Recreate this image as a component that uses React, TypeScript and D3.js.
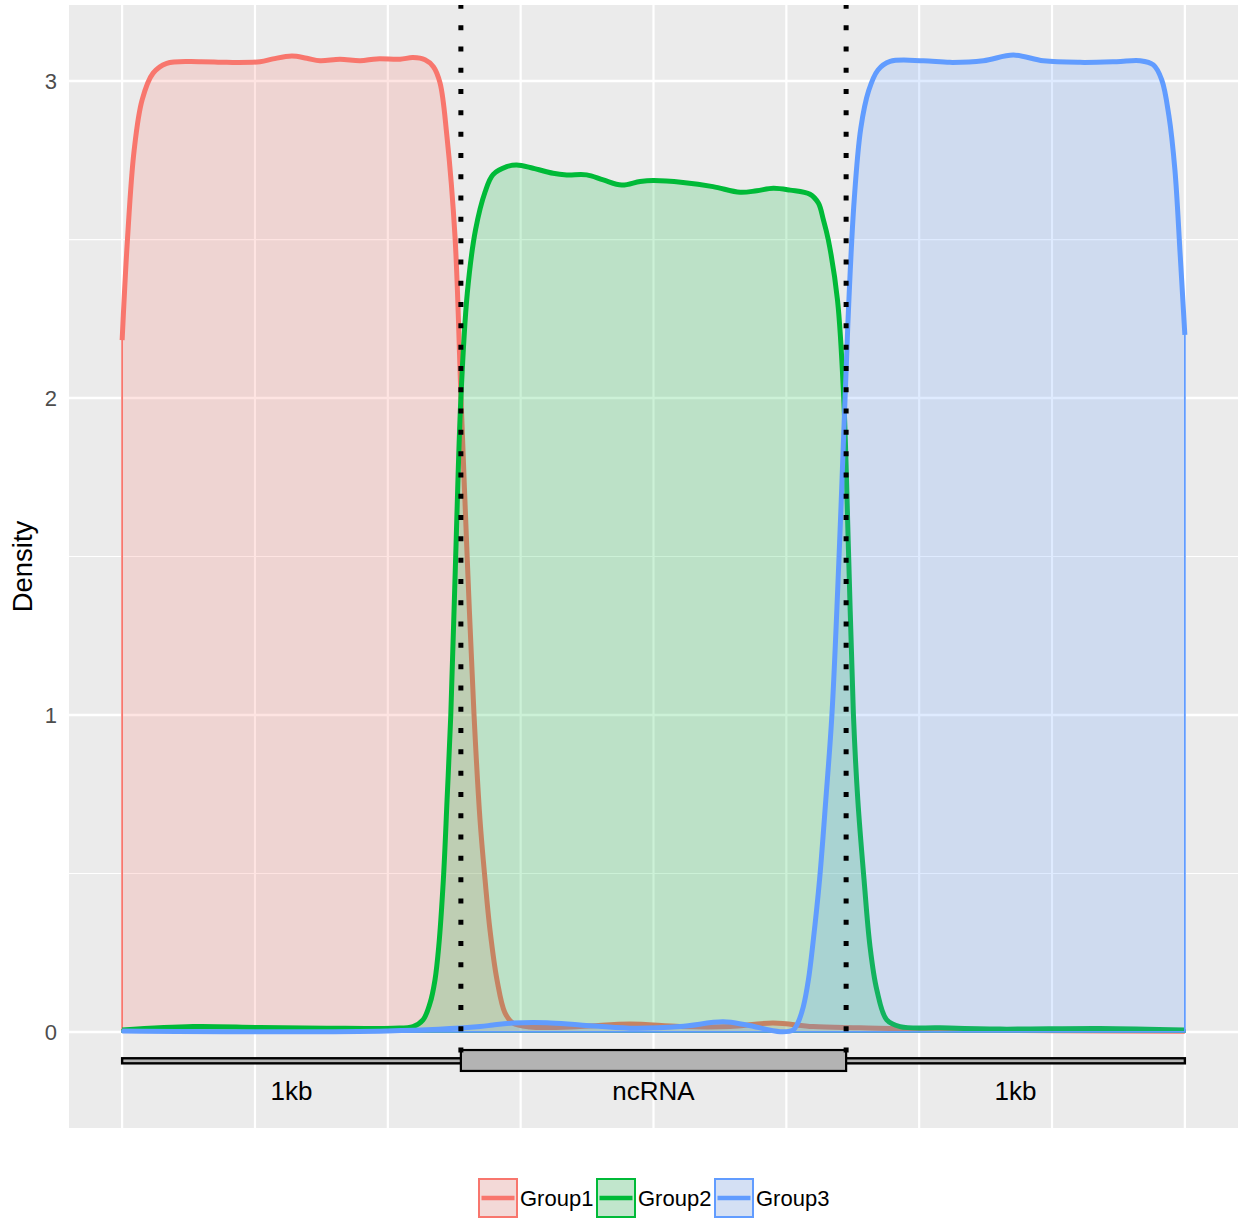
import React from 'react';
import * as d3 from 'd3';

// series: [position, density]
const groupNames = ['Group1', 'Group2', 'Group3'];
const groupColors = ['#F8766D', '#00BA38', '#619CFF'];

const group1Density: [number, number][] = [
  [0.0, 2.183], [0.04, 2.5], [0.09, 2.78], [0.15, 2.94], [0.233, 3.025], [0.336, 3.056],
  [0.586, 3.061], [0.787, 3.059], [1.038, 3.061], [1.136, 3.07], [1.277, 3.079], [1.39, 3.072],
  [1.49, 3.064], [1.64, 3.069], [1.791, 3.064], [1.917, 3.07], [2.092, 3.069], [2.19, 3.074],
  [2.28, 3.067], [2.343, 3.045], [2.393, 2.994], [2.444, 2.83], [2.506, 2.508], [2.551, 2.0],
  [2.597, 1.502], [2.649, 1.0], [2.694, 0.669], [2.732, 0.48], [2.769, 0.322], [2.822, 0.164],
  [2.882, 0.06], [2.942, 0.028], [3.071, 0.016], [3.447, 0.017], [3.823, 0.025], [4.2, 0.017],
  [4.576, 0.017], [4.9, 0.028], [5.201, 0.017], [5.555, 0.013], [6.0, 0.008], [7.0, 0.004],
  [8.0, 0.002],
];

const group2Density: [number, number][] = [
  [0.0, 0.006], [0.534, 0.017], [1.038, 0.014], [1.54, 0.012], [2.039, 0.012], [2.19, 0.017],
  [2.265, 0.038], [2.318, 0.091], [2.355, 0.164], [2.383, 0.268], [2.418, 0.48], [2.446, 0.732],
  [2.474, 1.0], [2.511, 1.502], [2.55, 2.0], [2.598, 2.33], [2.66, 2.53], [2.732, 2.65],
  [2.792, 2.705], [2.895, 2.73], [2.97, 2.735], [3.093, 2.725], [3.244, 2.709], [3.347, 2.704],
  [3.497, 2.704], [3.622, 2.688], [3.761, 2.672], [3.899, 2.683], [3.999, 2.686], [4.222, 2.68],
  [4.448, 2.667], [4.652, 2.649], [4.777, 2.654], [4.902, 2.662], [5.028, 2.656], [5.178, 2.643],
  [5.241, 2.615], [5.279, 2.562], [5.316, 2.499], [5.385, 2.309], [5.432, 2.0], [5.469, 1.502],
  [5.505, 1.0], [5.538, 0.732], [5.585, 0.48], [5.63, 0.269], [5.681, 0.133], [5.756, 0.038],
  [5.856, 0.017], [6.157, 0.013], [6.609, 0.009], [7.362, 0.011], [8.0, 0.006],
];

const group3Density: [number, number][] = [
  [0.0, 0.003], [2.0, 0.003], [2.694, 0.017], [2.792, 0.022], [2.942, 0.028], [3.196, 0.029],
  [3.447, 0.022], [3.823, 0.012], [4.2, 0.017], [4.524, 0.032], [4.702, 0.022], [4.953, 0.001],
  [5.05, 0.006], [5.085, 0.027], [5.128, 0.08], [5.166, 0.164], [5.203, 0.29], [5.25, 0.48],
  [5.297, 0.732], [5.343, 1.0], [5.397, 1.502], [5.442, 2.0], [5.472, 2.32], [5.51, 2.62],
  [5.56, 2.85], [5.62, 2.97], [5.69, 3.035], [5.781, 3.062], [6.031, 3.064],
  [6.232, 3.059], [6.483, 3.064], [6.709, 3.082], [6.935, 3.064], [7.211, 3.059], [7.487, 3.061],
  [7.663, 3.064], [7.763, 3.051], [7.826, 3.004], [7.88, 2.89], [7.925, 2.72], [7.965, 2.45],
  [8.0, 2.199],
];

const densities = [group1Density, group2Density, group3Density];

const yMajorTicks = [0, 1, 2, 3];
const yMinorTicks = [0.5, 1.5, 2.5];
const xGridBreaks = [0, 1, 2, 3, 4, 5, 6, 7, 8];

// gene model annotation below the curves
const regionEdges = [0, 2.55, 5.45, 8];
const regionLabels = ['1kb', 'ncRNA', '1kb'];
const flankBar = [-0.083, -0.099];
const geneBox = [-0.057, -0.123];
const labelY = -0.186;

const W = 1238;
const H = 1220;
const panel = { left: 69, right: 1238, top: 5, bottom: 1128 };
const font = 'Liberation Sans, Arial, Helvetica, sans-serif';

export default function App() {
  const x = d3.scaleLinear().domain([-0.4, 8.4]).range([panel.left, panel.right]);
  const y = d3.scaleLinear().domain([-0.303, 3.24]).range([panel.bottom, panel.top]);

  const curve = d3.curveCatmullRom.alpha(0.5);

  const area = d3
    .area<[number, number]>()
    .x((d) => x(d[0]))
    .y0(y(0))
    .y1((d) => y(d[1]))
    .curve(curve);

  const line = d3
    .line<[number, number]>()
    .x((d) => x(d[0]))
    .y((d) => y(d[1]))
    .curve(curve);

  const legendX0 = 478;
  const legendStep = 118;
  const legendY = 1178;
  const key = 40;

  return (
    <svg
      width={W}
      height={H}
      style={{ position: 'absolute', left: 0, top: 0, background: '#fff' }}
      fontFamily={font}
    >
      <rect
        x={panel.left}
        y={panel.top}
        width={panel.right - panel.left}
        height={panel.bottom - panel.top}
        fill="#EBEBEB"
      />
      {yMinorTicks.map((t) => (
        <line key={'ym' + t} x1={panel.left} x2={panel.right} y1={y(t)} y2={y(t)} stroke="#fff" strokeWidth={1.2} />
      ))}
      {yMajorTicks.map((t) => (
        <line key={'yM' + t} x1={panel.left} x2={panel.right} y1={y(t)} y2={y(t)} stroke="#fff" strokeWidth={2.4} />
      ))}
      {xGridBreaks.map((t) => (
        <line key={'x' + t} x1={x(t)} x2={x(t)} y1={panel.top} y2={panel.bottom} stroke="#fff" strokeWidth={2.2} />
      ))}

      {densities.map((d, i) => (
        <g key={groupNames[i]}>
          <path d={area(d) || ''} fill={groupColors[i]} fillOpacity={0.2} stroke={groupColors[i]} strokeWidth={1.8} />
          <path d={line(d) || ''} fill="none" stroke={groupColors[i]} strokeWidth={5} strokeLinejoin="round" />
        </g>
      ))}

      {/* annotation: flanks and ncRNA body */}
      <rect
        x={x(regionEdges[0])}
        y={y(flankBar[0])}
        width={x(regionEdges[3]) - x(regionEdges[0])}
        height={y(flankBar[1]) - y(flankBar[0])}
        fill="#B3B3B3"
        stroke="#000"
        strokeWidth={2.4}
      />
      <rect
        x={x(regionEdges[1])}
        y={y(geneBox[0])}
        width={x(regionEdges[2]) - x(regionEdges[1])}
        height={y(geneBox[1]) - y(geneBox[0])}
        fill="#B3B3B3"
        stroke="#000"
        strokeWidth={2.2}
      />
      {regionLabels.map((lab, i) => (
        <text
          key={'rl' + i}
          x={(x(regionEdges[i]) + x(regionEdges[i + 1])) / 2}
          y={y(labelY)}
          dy="0.35em"
          textAnchor="middle"
          fontSize={26}
          fill="#000"
        >
          {lab}
        </text>
      ))}

      {/* boundaries of the ncRNA */}
      {[regionEdges[1], regionEdges[2]].map((b) => (
        <line
          key={'b' + b}
          x1={x(b)}
          x2={x(b)}
          y1={y(geneBox[0]) + 2.5}
          y2={panel.top}
          stroke="#000"
          strokeWidth={5}
          strokeDasharray="5 16.3"
        />
      ))}

      {/* y axis */}
      {yMajorTicks.map((t) => (
        <text key={'yl' + t} x={57} y={y(t)} dy="0.35em" textAnchor="end" fontSize={22} fill="#4D4D4D">
          {t}
        </text>
      ))}
      <text
        transform={`translate(31.5,${(panel.top + panel.bottom) / 2}) rotate(-90)`}
        textAnchor="middle"
        fontSize={27.5}
        fill="#000"
      >
        Density
      </text>

      {/* legend */}
      {groupNames.map((g, i) => {
        const lx = legendX0 + i * legendStep;
        return (
          <g key={'lg' + g}>
            <rect x={lx} y={legendY} width={key} height={key} fill="#F2F2F2" />
            <rect
              x={lx + 1}
              y={legendY + 1}
              width={key - 2}
              height={key - 2}
              fill={groupColors[i]}
              fillOpacity={0.2}
              stroke={groupColors[i]}
              strokeWidth={2}
            />
            <line
              x1={lx + 3.5}
              x2={lx + key - 3.5}
              y1={legendY + key / 2}
              y2={legendY + key / 2}
              stroke={groupColors[i]}
              strokeWidth={4.5}
            />
            <text x={lx + key + 2} y={legendY + key / 2} dy="0.35em" fontSize={22} fill="#000">
              {g}
            </text>
          </g>
        );
      })}
    </svg>
  );
}
